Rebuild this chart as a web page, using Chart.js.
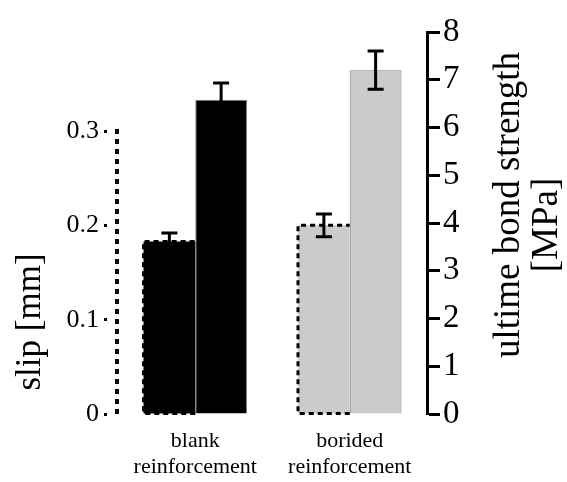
<!DOCTYPE html>
<html>
<head>
<meta charset="utf-8">
<script src="https://cdn.jsdelivr.net/npm/chart.js@4/dist/chart.umd.min.js"></script>
<style>
  html, body { margin: 0; padding: 0; background: #fff; }
  #wrap { width: 567px; height: 482px; }
</style>
</head>
<body>
<div id="wrap"><canvas id="canvas" width="567" height="482"></canvas></div>
<script>
var categories = [["blank", "reinforcement"], ["borided", "reinforcement"]];
var slipValues = [0.183, 0.200];
var slipErrors = [0.009, 0.012];
var strengthValues = [6.58, 7.20];
var strengthErrors = [0.35, 0.40];
var barColors = ["#000000", "#cbcbcb"];
var slipTicksMax = 0.3;

var serif = "'Liberation Serif', 'DejaVu Serif', serif";

// error bars, dashed outline of slip bars, dotted left axis and axis titles
var extras = {
	id: "extras",
	afterDatasetsDraw: function(chart) {
		var ctx = chart.ctx;
		var ySlip = chart.scales.ySlip;

		// dashed outline on slip bars
		var meta0 = chart.getDatasetMeta(0);
		ctx.save();
		ctx.strokeStyle = "#000";
		ctx.lineWidth = 3;
		ctx.setLineDash([5, 4]);
		meta0.data.forEach(function(bar) {
			var l = bar.x - bar.width / 2, r = bar.x + bar.width / 2;
			ctx.beginPath();
			ctx.moveTo(r, bar.base);
			ctx.lineTo(l, bar.base);
			ctx.lineTo(l, bar.y);
			ctx.lineTo(r, bar.y);
			ctx.stroke();
		});
		ctx.restore();

		// error bars
		var sets = [
			{ meta: meta0, scale: ySlip, vals: slipValues, errs: slipErrors },
			{ meta: chart.getDatasetMeta(1), scale: chart.scales.yStr, vals: strengthValues, errs: strengthErrors }
		];
		ctx.save();
		ctx.strokeStyle = "#000";
		ctx.lineWidth = 3;
		sets.forEach(function(s) {
			s.meta.data.forEach(function(bar, i) {
				var top = s.scale.getPixelForValue(s.vals[i] + s.errs[i]);
				var bot = s.scale.getPixelForValue(s.vals[i] - s.errs[i]);
				var cap = 8;
				ctx.beginPath();
				ctx.moveTo(bar.x, top); ctx.lineTo(bar.x, bot);
				ctx.moveTo(bar.x - cap, top); ctx.lineTo(bar.x + cap, top);
				ctx.moveTo(bar.x - cap, bot); ctx.lineTo(bar.x + cap, bot);
				ctx.stroke();
			});
		});
		ctx.restore();

		// dotted left axis from 0 to 0.3
		ctx.save();
		ctx.strokeStyle = "#000";
		ctx.lineWidth = 4;
		ctx.setLineDash([5, 5]);
		ctx.beginPath();
		ctx.moveTo(ySlip.right - 1, ySlip.getPixelForValue(0));
		ctx.lineTo(ySlip.right - 1, ySlip.getPixelForValue(slipTicksMax) - 7);
		ctx.stroke();
		ctx.restore();

		// axis titles
		ctx.save();
		ctx.fillStyle = "#000";
		ctx.textAlign = "center";
		ctx.textBaseline = "middle";
		ctx.font = "35px " + serif;
		ctx.translate(31, 322);
		ctx.rotate(-Math.PI / 2);
		ctx.fillText("slip [mm]", 0, 0);
		ctx.restore();

		ctx.save();
		ctx.fillStyle = "#000";
		ctx.textAlign = "center";
		ctx.textBaseline = "middle";
		ctx.font = "37px " + serif;
		ctx.translate(509, 205);
		ctx.rotate(-Math.PI / 2);
		ctx.fillText("ultime bond strength", 0, 0);
		ctx.restore();

		ctx.save();
		ctx.fillStyle = "#000";
		ctx.textAlign = "center";
		ctx.textBaseline = "middle";
		ctx.font = "37px " + serif;
		ctx.translate(547, 225);
		ctx.rotate(-Math.PI / 2);
		ctx.fillText("[MPa]", 0, 0);
		ctx.restore();
	}
};

var ctx = document.getElementById("canvas").getContext("2d");
var chart = new Chart(ctx, {
	type: "bar",
	data: {
		labels: categories,
		datasets: [
			{
				label: "slip",
				data: slipValues,
				yAxisID: "ySlip",
				backgroundColor: barColors,
				borderWidth: 0
			},
			{
				label: "ultime bond strength",
				data: strengthValues,
				yAxisID: "yStr",
				backgroundColor: barColors,
				borderColor: "#808080",
				borderWidth: 1
			}
		]
	},
	options: {
		responsive: false,
		animation: false,
		layout: { padding: { top: 32, left: 0, right: 0, bottom: 0 } },
		datasets: { bar: { barPercentage: 1, categoryPercentage: 0.67 } },
		plugins: {
			legend: { display: false },
			tooltip: { enabled: false }
		},
		scales: {
			x: {
				grid: { display: false, drawTicks: false },
				border: { display: false },
				ticks: {
					color: "#000",
					padding: 14,
					maxRotation: 0,
					font: { family: serif, size: 22, lineHeight: 1.18 }
				},
				afterFit: function(scale) { scale.height = 68; }
			},
			ySlip: {
				position: "left",
				min: 0,
				max: 0.405,
				border: { display: false },
				grid: {
					drawOnChartArea: false,
					tickLength: 14,
					tickWidth: 3,
					tickColor: "#000",
					tickBorderDash: [3, 40]
				},
				ticks: {
					stepSize: 0.1,
					color: "#000",
					padding: 5,
					font: { family: serif, size: 26 },
					callback: function(v) { return v === 0 ? "0" : v.toFixed(1); }
				},
				afterBuildTicks: function(scale) {
					scale.ticks = scale.ticks.filter(function(t) { return t.value <= slipTicksMax + 1e-9; });
				},
				afterFit: function(scale) { scale.width = 118; }
			},
			yStr: {
				position: "right",
				min: 0,
				max: 8,
				border: { display: true, color: "#000", width: 3 },
				grid: {
					drawOnChartArea: false,
					tickLength: 13,
					tickWidth: 3,
					tickColor: "#000"
				},
				ticks: {
					stepSize: 1,
					color: "#000",
					padding: 3,
					font: { family: serif, size: 33 }
				},
				afterFit: function(scale) { scale.width = 140; }
			}
		}
	},
	plugins: [extras]
});
</script>
</body>
</html>
